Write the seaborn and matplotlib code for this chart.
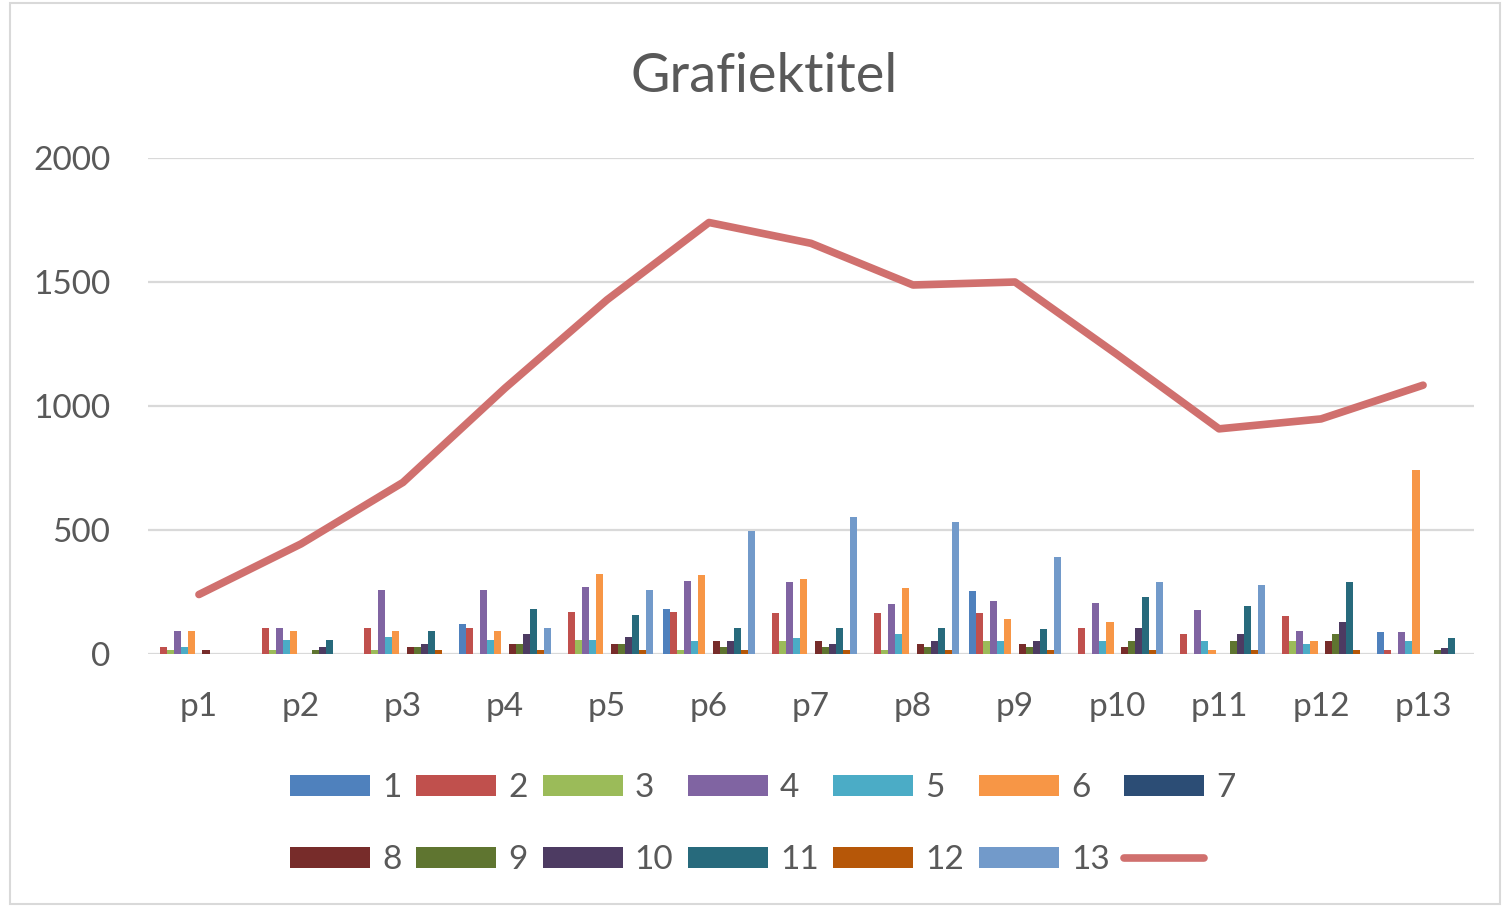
import numpy as np
import pandas as pd
import seaborn as sns
import matplotlib.pyplot as plt
from matplotlib.patches import Patch, Rectangle
from matplotlib.lines import Line2D

# Data

cats = ['p1', 'p2', 'p3', 'p4', 'p5', 'p6', 'p7', 'p8', 'p9', 'p10', 'p11', 'p12', 'p13']

s1 = [0, 0, 0, 120, 0, 180, 0, 0, 255, 0, 0, 0, 90]
s2 = [30, 105, 105, 105, 170, 168, 166, 166, 166, 105, 80, 155, 15]
s3 = [17, 17, 17, 0, 55, 15, 52, 15, 52, 0, 0, 54, 0]
s4 = [93, 106, 258, 258, 271, 295, 292, 203, 214, 204, 179, 91, 89]
s5 = [30, 55, 68, 55, 55, 52, 66, 81, 52, 54, 54, 41, 52]
s6 = [93, 93, 93, 93, 322, 320, 303, 266, 140, 128, 17, 54, 741]
s7 = [0, 0, 0, 0, 0, 0, 0, 0, 0, 0, 0, 0, 0]
s8 = [17, 0, 30, 42, 42, 52, 52, 40, 40, 29, 0, 54, 0]
s9 = [0, 17, 30, 42, 42, 28, 28, 28, 28, 54, 54, 79, 15]
s10 = [0, 30, 42, 81, 67, 52, 40, 52, 52, 105, 79, 128, 26]
s11 = [0, 55, 93, 181, 157, 105, 104, 104, 102, 229, 192, 291, 64]
s12 = [0, 0, 17, 17, 17, 15, 15, 15, 16, 17, 17, 17, 0]
s13 = [0, 0, 0, 106, 258, 495, 553, 531, 390, 291, 279, 0, 0]

total = [240, 444, 692, 1072, 1428, 1740, 1656, 1488, 1500, 1208, 908, 948, 1084]

series_names = [str(i) for i in range(1, 14)]
series_vals = [s1, s2, s3, s4, s5, s6, s7, s8, s9, s10, s11, s12, s13]

colors = ['#4F81BD', '#C0504D', '#9BBB59', '#8064A2', '#4BACC6', '#F79646', '#2C4D75',
          '#772C2A', '#5F7530', '#4D3B62', '#276A7C', '#B65708', '#729ACA']
line_color = '#D0706E'

# Long format for seaborn
rows = []
for name, vals in zip(series_names, series_vals):
    for c, v in zip(cats, vals):
        rows.append({'cat': c, 'val': v, 'series': name})
df = pd.DataFrame(rows)

sns.set_style('white')
plt.rcParams['font.family'] = ['Lato', 'DejaVu Sans']

fig = plt.figure(figsize=(15.02, 9.06), dpi=100)
ax = fig.add_axes([0.0985, 0.2781, 0.8829, 0.5475])

sns.barplot(data=df, x='cat', y='val', hue='series', order=cats, hue_order=series_names,
            palette=colors, width=0.9, saturation=1, ax=ax, legend=False,
            edgecolor='none', linewidth=0)

ax.plot(np.arange(len(cats)), total, color=line_color, lw=5.5, solid_capstyle='round', zorder=5)

ax.set_xlim(-0.5, len(cats) - 0.5)
ax.set_ylim(0, 2000)
ax.set_yticks([0, 500, 1000, 1500, 2000])
ax.yaxis.grid(True, color='#d9d9d9', lw=1.6)
ax.set_axisbelow(True)
for sp in ax.spines.values():
    sp.set_visible(False)
ax.axhline(0, color='#d9d9d9', lw=2, zorder=0.5)
ax.set_xlabel('')
ax.set_ylabel('')
ax.tick_params(axis='both', length=0, labelsize=24, labelcolor='#595959')
ax.tick_params(axis='x', pad=27)
ax.tick_params(axis='y', pad=27)

fig.text(0.509, 0.916, 'Grafiektitel', ha='center', va='center', fontsize=39, color='#595959')

# legend, filled row by row like the reference
handles = [Patch(facecolor=c, edgecolor='none') for c in colors]
handles.append(Line2D([0], [0], color=line_color, lw=5.5, solid_capstyle='round'))
labels = series_names + ['']
order = [i + r * 7 for i in range(7) for r in range(2)]
fig.legend([handles[i] for i in order], [labels[i] for i in order], ncol=7, loc='center',
           bbox_to_anchor=(0.508, 0.0905), frameon=False, fontsize=24, handlelength=2.4,
           handleheight=0.6, handletextpad=0.36, columnspacing=0.44, labelspacing=1.25,
           labelcolor='#595959')

fig.patches.append(Rectangle((10 / 1502, 0.002), 1490 / 1502, 0.995, transform=fig.transFigure,
                             fill=False, edgecolor='#d9d9d9', lw=1.5))

plt.savefig('out.png', dpi=100)
